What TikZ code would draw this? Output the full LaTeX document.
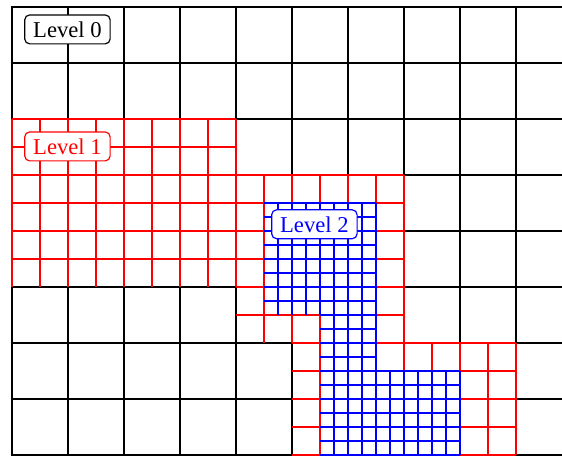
\documentclass[tikz,border=0pt]{standalone}
\usepackage{fontspec}
\setmainfont{Liberation Serif}
\tikzset{lvlbox/.style={draw,fill=white,rounded corners=2.5pt,line width=.6pt,inner xsep=4.3pt,inner ysep=3.3pt,font=\fontsize{11.5}{13}\selectfont}}

\begin{document}
\begin{tikzpicture}[x=1cm,y=1cm]
\path[use as bounding box] (-0.21428571,-0.02) rectangle (9.82142857,8.125);
\begin{scope}
\clip (-0.1,-0.1) rectangle (9.82142857,8.1);
% level 0
\draw[line width=1pt,step=1] (0,0) grid (10,8);
\draw[line width=1pt] (0,0) rectangle (10,8);
% level 1
\draw[red,line width=1pt,step=.5] (0,3) grid (4,6);
\draw[red,line width=1pt,step=.5] (4,2) grid (7,5);
\draw[red,line width=1pt,step=.5] (5,0) grid (9,2);
% level 2
\draw[blue,line width=1pt,step=.25] (4.5,2.5) grid (6.5,4.5);
\draw[blue,line width=1pt,step=.25] (5.5,1.5) grid (6.5,2.5);
\draw[blue,line width=1pt,step=.25] (5.5,0) grid (8,1.5);
\end{scope}
\node[lvlbox] (lvl0) at (0.99,7.60) {Level 0};
\node[lvlbox,draw=red,text=red] (lvl1) at (0.99,5.51) {Level 1};
\node[lvlbox,draw=blue,text=blue] (lvl2) at (5.40,4.12) {Level 2};
\end{tikzpicture}
\end{document}
